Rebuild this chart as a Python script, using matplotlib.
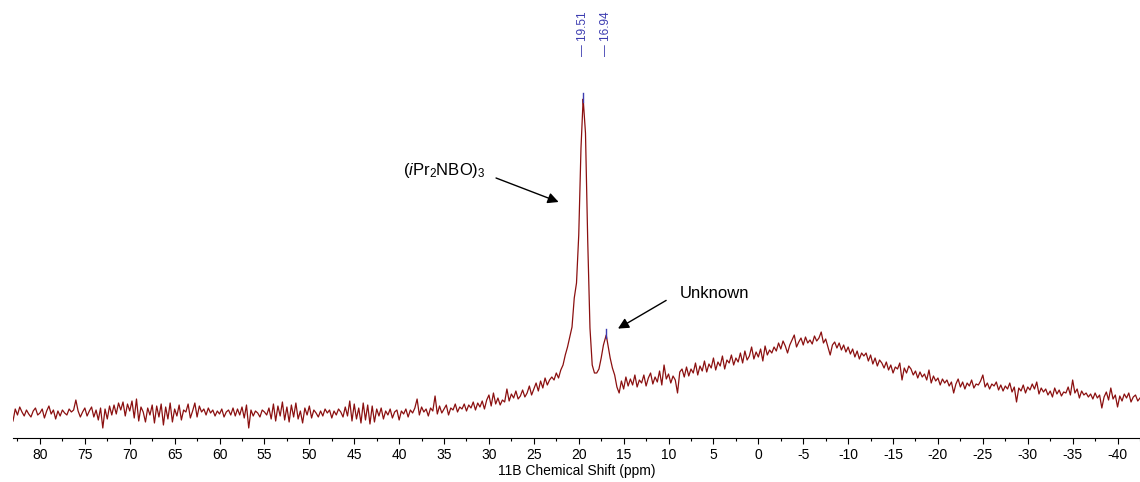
import numpy as np
import matplotlib.pyplot as plt
import matplotlib.transforms as mtransforms
from matplotlib.ticker import MultipleLocator

plt.rcParams['font.family'] = ['Liberation Sans', 'DejaVu Sans']
plt.rcParams['mathtext.fontset'] = 'custom'
plt.rcParams['mathtext.rm'] = 'Liberation Sans'
plt.rcParams['mathtext.it'] = 'Liberation Sans:italic'
plt.rcParams['axes.unicode_minus'] = False

# 11B spectrum, sampled every 0.25 ppm starting at 83 ppm (intensity in arbitrary units)
shift_start = 83.0
shift_step = -0.25
intensity = np.array([
    -8, 4, -2, 6, 1, -3, 3, -1, -4, 2, 5, -2, 0, 4, -5, 2, 7, -1, 3, -6,          # 83 .. 78.25
    2, -3, 3, 0, -2, 4, 1, 3, 13, 2, -4, 1, 5, -3, 2, 6, -4, 3, -7, 5,            # 78 .. 73.25
    -15, 4, -6, 7, -2, 8, -1, 10, 3, 11, -3, 9, 2, 12, -5, 14, -8, 6, 1, -9,      # 73 .. 68.25
    5, -2, 8, -10, 7, -4, 9, -12, 6, -6, 10, -9, 4, -3, 8, -7, 3, 1, 9, -5,       # 68 .. 63.25
    2, 10, -4, 7, 1, 4, -2, 5, 0, 3, -3, 2, -1, 4, -4, 1, 3, -2, 5, -3,           # 63 .. 58.25
    4, -2, 6, -5, 8, -15, 3, -3, 2, 0, -4, 3, 1, -2, 5, -6, 9, -8, 7, -3,         # 58 .. 53.25
    11, -7, 6, -9, 8, -4, 10, -6, 2, -10, 5, -2, 7, -5, 3, 0, -4, 2, -3, 4,       # 53 .. 48.25
    0, 3, -5, 2, -2, 4, 1, -4, 6, -3, 12, -8, 9, -6, 5, -10, 10, -7, 8, -11,      # 48 .. 43.25
    7, -9, 4, -3, 5, -6, 2, -2, 4, -5, 1, 3, -7, 2, -1, 4, -4, 3, 0, 5,           # 43 .. 38.25
    14, -2, 6, 1, 4, -3, 5, 2, 17, -1, 7, 0, 4, 8, -2, 5, 3, 9, 1, 6,             # 38 .. 33.25
    4, 9, 2, 8, 5, 11, 3, 10, 6, 12, 4, 13, 18, 7, 20, 9, 15, 8, 13, 11,          # 33 .. 28.25
    24, 12, 19, 15, 22, 14, 17, 23, 16, 20, 27, 18, 24, 30, 22, 32, 25, 35, 28, 33,   # 28 .. 23.25
    36, 33, 40, 35, 43, 48, 58, 66, 76, 86, 115, 130, 178, 265, 313, 280, 172, 85, 48, 40,  # 23 .. 18.25
    40, 44, 55, 68, 76, 68, 55, 45, 38, 26, 20, 32, 24, 36, 27, 34, 28, 38, 26, 33,   # 18 .. 13.25
    30, 38, 27, 35, 40, 29, 36, 31, 42, 28, 48, 34, 39, 30, 37, 33, 20, 41, 44, 36,   # 13 .. 8.25
    46, 37, 44, 40, 50, 38, 47, 42, 52, 41, 49, 45, 55, 43, 51, 47, 57, 44, 53, 50,   # 8 .. 3.25
    58, 48, 55, 51, 60, 50, 62, 53, 57, 66, 54, 61, 56, 64, 52, 67, 58, 63, 60, 66,   # 3 .. -1.75
    62, 70, 64, 72, 67, 60, 68, 73, 78, 66, 71, 75, 68, 76, 70, 73, 69, 77, 72, 75,   # -2 .. -6.75
    81, 70, 74, 66, 58, 68, 71, 65, 70, 63, 68, 61, 66, 59, 64, 56, 62, 54, 60, 57,   # -7 .. -11.75
    60, 52, 58, 49, 55, 47, 53, 50, 45, 51, 43, 48, 40, 46, 44, 50, 33, 45, 40, 47,   # -12 .. -16.75
    44, 38, 42, 35, 41, 36, 39, 33, 43, 30, 37, 32, 35, 28, 34, 30, 33, 27, 31, 20,   # -17 .. -21.75
    29, 34, 26, 31, 24, 30, 27, 33, 25, 29, 28, 32, 38, 26, 30, 24, 29, 27, 31, 23,   # -22 .. -26.75
    28, 22, 27, 24, 30, 21, 26, 11, 25, 22, 28, 20, 26, 23, 29, 24, 31, 19, 25, 21,   # -27 .. -31.75
    24, 18, 22, 16, 25, 19, 23, 17, 21, 20, 26, 18, 33, 20, 24, 15, 22, 18, 20, 16,   # -32 .. -36.75
    19, 14, 20, 15, 18, 5, 16, 21, 13, 25, 14, 18, 6, 17, 12, 19, 15, 20, 11, 16,    # -37 .. -41.75
    18, 12, 15,                                                                        # -42 .. -42.5
], dtype=float)
shift = shift_start + shift_step * np.arange(len(intensity))

# picked peaks
peak_shift = [19.51, 16.94]
peak_height = [314, 78]

# merge peak apexes into the trace
x = np.concatenate([shift, peak_shift])
y = np.concatenate([intensity, peak_height])
order = np.argsort(-x)
x, y = x[order], y[order]

fig = plt.figure(figsize=(11.4, 4.82), dpi=100)
ax = fig.add_axes([13 / 1140, 44 / 482, 1127 / 1140, 428 / 482])

ax.plot(x, y, color='#8b1010', lw=0.9)

peak_color = '#3c3cb0'
trans = mtransforms.blended_transform_factory(ax.transData, ax.transAxes)
for p, h in zip(peak_shift, peak_height):
    ax.plot([p, p], [h - 3, h + 6], color=peak_color, lw=1)
    ax.text(p, 0.893, f'\u2014 {p:.2f}', transform=trans, rotation=90,
            ha='center', va='bottom', fontsize=8.5, color=peak_color)

# annotations
ax.text(39.6, 243, r'($\mathit{i}$Pr$_2$NBO)$_3$', fontsize=12, va='center', ha='left')
ax.annotate('', xy=(21.95, 210), xytext=(29.5, 236),
            arrowprops=dict(arrowstyle='-|>', color='black', lw=1, mutation_scale=16))
ax.text(8.7, 119, 'Unknown', fontsize=12, va='center', ha='left')
ax.annotate('', xy=(15.9, 83), xytext=(10.0, 114),
            arrowprops=dict(arrowstyle='-|>', color='black', lw=1, mutation_scale=16))

ax.set_xlim(83.0, -42.5)
ax.set_ylim(-25, 403)
ax.xaxis.set_major_locator(MultipleLocator(5))
ax.xaxis.set_minor_locator(MultipleLocator(2.5))
ax.tick_params(axis='x', which='major', length=4.5, width=0.8, labelsize=10, pad=3)
ax.tick_params(axis='x', which='minor', length=2.5, width=0.8)
ax.set_yticks([])
for side in ['top', 'left', 'right']:
    ax.spines[side].set_visible(False)
ax.spines['bottom'].set_linewidth(0.8)
ax.set_xlabel('11B Chemical Shift (ppm)', fontsize=10, labelpad=1)

fig.savefig('out.png', dpi=100)
